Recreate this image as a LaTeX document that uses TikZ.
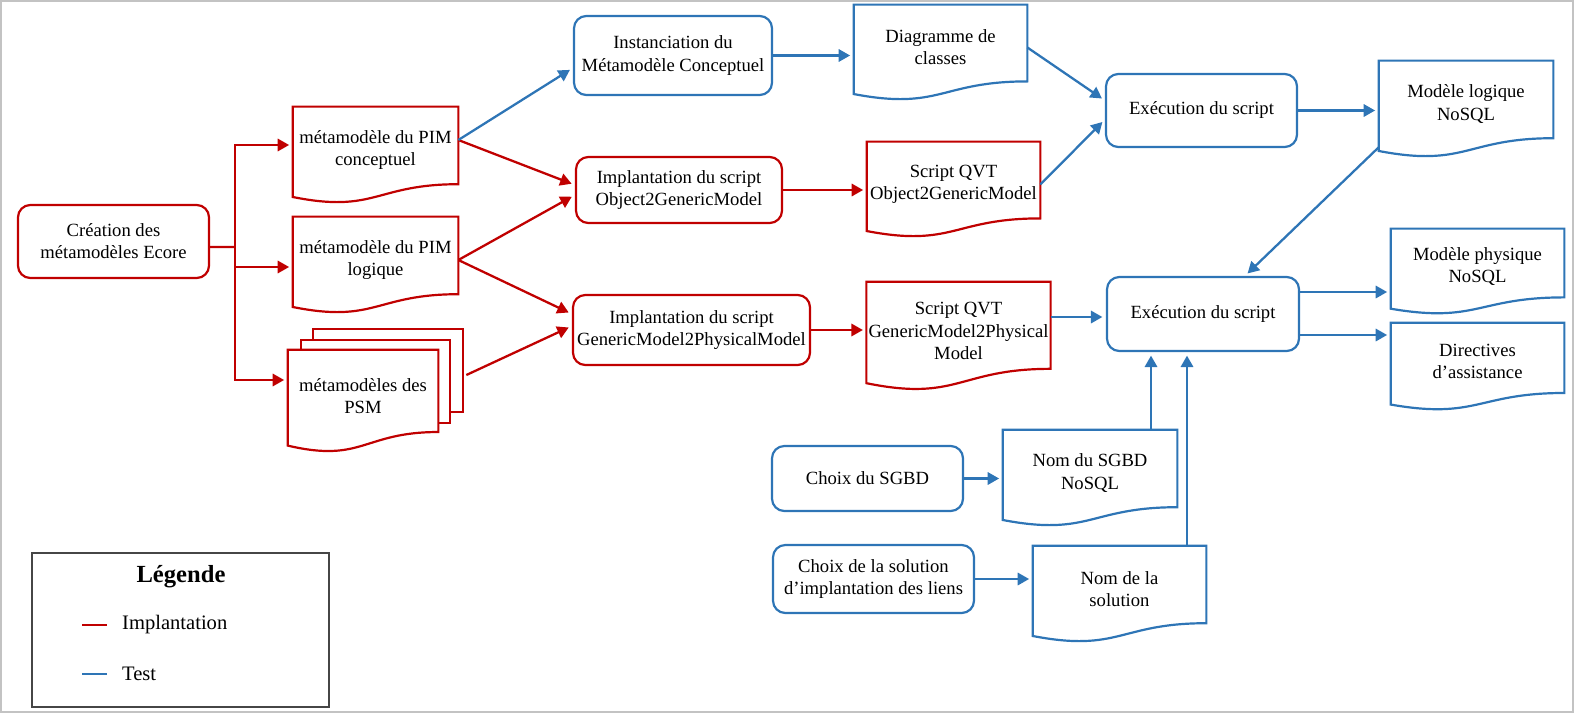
\documentclass[tikz,border=0pt]{standalone}
\usepackage{fontspec}
\setmainfont{Liberation Serif}
\usetikzlibrary{arrows.meta,calc,backgrounds}
\definecolor{implred}{RGB}{192,0,0}
\definecolor{testblue}{RGB}{46,117,182}
\definecolor{legendgrey}{RGB}{70,70,70}
\definecolor{framegrey}{RGB}{195,195,195}
\newcommand{\docshape}[2]{%
	\draw[#2, line width=1.25pt, fill=white] let \p1=(#1.north west), \p2=(#1.south east), \n1={\y1-\y2+0.2cm} in
		(\x1,\y1) -- (\x2,\y1) -- (\x2,{\y1-0.802*\n1})
		.. controls ({(\x1+\x2)/2},{\y1-0.802*\n1}) and ({(\x1+\x2)/2},{\y1-1.107*\n1}) .. (\x1,{\y1-0.934*\n1}) -- cycle;}
\tikzset{
	txt/.style={font=\fontsize{10.6}{12.6}\selectfont, align=center},
	box/.style={txt, draw=#1, line width=1.25pt, rounded corners=7pt, fill=white, inner sep=2pt},
	doc/.style={txt, inner xsep=1pt, inner ysep=2pt},
	ared/.style={implred, line width=1.3pt, -{Triangle[length=6.5pt,width=7pt]}, shorten >=2pt},
	ablue/.style={testblue, line width=1.3pt, -{Triangle[length=6.5pt,width=7pt]}, shorten >=2pt}
}
\begin{document}
\begin{tikzpicture}
	\useasboundingbox (0,0) rectangle (31.52,-14.26);
	\draw[framegrey, line width=0.6pt] (0.02,-0.02) rectangle (31.46,-14.24);

	\node[box=implred, minimum width=3.82cm, minimum height=1.46cm] (crea) at (2.27,-4.83)
		{Création des\\métamodèles Ecore};
	\node[doc, minimum width=3.30cm, minimum height=1.72cm] (pimc) at (7.51,-3.00)
		{métamodèle du PIM\\conceptuel};
	\node[doc, minimum width=3.30cm, minimum height=1.72cm] (piml) at (7.51,-5.20)
		{métamodèle du PIM\\logique};
	\node[doc, minimum width=3.00cm, minimum height=1.84cm] (psm) at (7.26,-7.92)
		{métamodèles des\\PSM};

	\node[box=testblue, minimum width=3.96cm, minimum height=1.58cm] (inst) at (13.46,-1.11)
		{Instanciation du\\Métamodèle Conceptuel};
	\node[box=implred, minimum width=4.12cm, minimum height=1.32cm] (impo) at (13.58,-3.80)
		{Implantation du script\\Object2GenericModel};
	\node[box=implred, minimum width=4.74cm, minimum height=1.40cm] (impg) at (13.83,-6.60)
		{Implantation du script\\GenericModel2PhysicalModel};

	\node[doc, minimum width=3.46cm, minimum height=1.70cm] (diag) at (18.81,-0.95)
		{Diagramme de\\classes};
	\node[doc, minimum width=3.46cm, minimum height=1.70cm] (qvto) at (19.07,-3.69)
		{Script QVT\\Object2GenericModel};
	\node[doc, minimum width=3.66cm, minimum height=1.96cm] (qvtg) at (19.17,-6.62)
		{Script QVT\\GenericModel2Physical\\Model};

	\node[box=testblue, minimum width=3.82cm, minimum height=1.46cm] (exe1) at (24.03,-2.21)
		{Exécution du script};
	\node[box=testblue, minimum width=3.84cm, minimum height=1.48cm] (exe2) at (24.06,-6.28)
		{Exécution du script};

	\node[doc, minimum width=3.48cm, minimum height=1.72cm] (mlog) at (29.32,-2.08)
		{Modèle logique\\NoSQL};
	\node[doc, minimum width=3.46cm, minimum height=1.50cm] (mphy) at (29.55,-5.33)
		{Modèle physique\\NoSQL};
	\node[doc, minimum width=3.46cm, minimum height=1.54cm] (dire) at (29.55,-7.23)
		{Directives\\d’assistance};

	\node[box=testblue, minimum width=3.82cm, minimum height=1.30cm] (csgbd) at (17.35,-9.57)
		{Choix du SGBD};
	\node[box=testblue, minimum width=4.02cm, minimum height=1.36cm] (csol) at (17.47,-11.58)
		{Choix de la solution\\d’implantation des liens};
	\node[doc, minimum width=3.48cm, minimum height=1.72cm] (nsgbd) at (21.80,-9.46)
		{Nom du SGBD\\NoSQL};
	\node[doc, minimum width=3.46cm, minimum height=1.72cm] (nsol) at (22.39,-11.78)
		{Nom de la\\solution};

	\begin{scope}[on background layer]
		\docshape{pimc}{implred}
		\docshape{piml}{implred}
		\draw[implred, line width=1.25pt, fill=white] ([shift={(0.5,0.42)}]psm.north west) rectangle ([shift={(0.5,0.6)}]psm.south east);
		\draw[implred, line width=1.25pt, fill=white] ([shift={(0.26,0.2)}]psm.north west) rectangle ([shift={(0.24,0.38)}]psm.south east);
		\docshape{psm}{implred}
		\docshape{diag}{testblue}
		\docshape{qvto}{implred}
		\docshape{qvtg}{implred}
		\docshape{mlog}{testblue}
		\docshape{mphy}{testblue}
		\docshape{dire}{testblue}
		\docshape{nsgbd}{testblue}
		\docshape{nsol}{testblue}
	\end{scope}

	\coordinate (br) at (4.70,-4.94);
	\draw[implred, line width=1.3pt] ([yshift=-0.11cm]crea.east) -- (br);
	\draw[ared] (br) |- ([yshift=0.1cm]pimc.west);
	\draw[ared] (br) |- ([yshift=-0.14cm]piml.west);
	\draw[ared] (br) |- ([yshift=0.32cm]psm.west);
	\draw[ared] ([yshift=0.2cm]pimc.east) -- ([yshift=0.1cm]impo.west);
	\draw[ared] (piml.east) -- ([yshift=-0.1cm]impo.west);
	\draw[ared] (piml.east) -- ([yshift=0.32cm]impg.west);
	\coordinate (psmout) at ([shift={(0.56,0.42)}]psm.east);
	\draw[ared] (psmout) -- ([yshift=0.08cm]impg.west);
	\draw[ared] (impo.east) -- (impo.east -| qvto.west);
	\draw[ared] (impg.east) -- (impg.east -| qvtg.west);

	\draw[ablue] ([yshift=0.2cm]pimc.east) -- ([yshift=-0.25cm]inst.west);
	\draw[ablue] (inst.east) -- (inst.east -| diag.west);
	\draw[ablue] (diag.east) -- ([yshift=0.2cm]exe1.west);
	\draw[ablue] (qvto.east) -- ([yshift=-0.18cm]exe1.west);
	\draw[ablue] (exe1.east) -- (exe1.east -| mlog.west);
	\draw[ablue] (mlog.south west) -- ([xshift=0.84cm]exe2.north);
	\draw[ablue] ([yshift=0.28cm]qvtg.east) -- ([yshift=0.28cm]qvtg.east -| exe2.west);
	\draw[ablue] ([yshift=0.44cm]exe2.east) -- ([yshift=0.44cm]exe2.east -| mphy.west);
	\draw[ablue] ([yshift=-0.42cm]exe2.east) -- ([yshift=-0.42cm]exe2.east -| dire.west);
	\draw[ablue] (csgbd.east) -- (csgbd.east -| nsgbd.west);
	\draw[ablue] (csol.east) -- (csol.east -| nsol.west);
	\coordinate (ina) at ([xshift=-1.04cm]exe2.south);
	\coordinate (inb) at ([xshift=-0.32cm]exe2.south);
	\draw[ablue] (ina |- nsgbd.north) -- (ina);
	\draw[ablue] (inb |- nsol.north) -- (inb);

	\node[draw=legendgrey, line width=0.6pt, minimum width=5.94cm, minimum height=3.08cm] (leg) at (3.61,-12.60) {};
	\node[font=\bfseries\fontsize{14}{16}\selectfont] (legt) at (3.62,-11.54) {Légende};
	\node[anchor=west, font=\fontsize{11.7}{14}\selectfont] (limpl) at (2.32,-12.50) {Implantation};
	\node[anchor=west, font=\fontsize{11.7}{14}\selectfont] (ltest) at (2.32,-13.48) {Test};
	\draw[implred, line width=1.3pt] ([xshift=-0.18cm]limpl.west) -- ++(-0.5,0);
	\draw[testblue, line width=1.3pt] ([xshift=-0.18cm]ltest.west) -- ++(-0.5,0);
\end{tikzpicture}
\end{document}
